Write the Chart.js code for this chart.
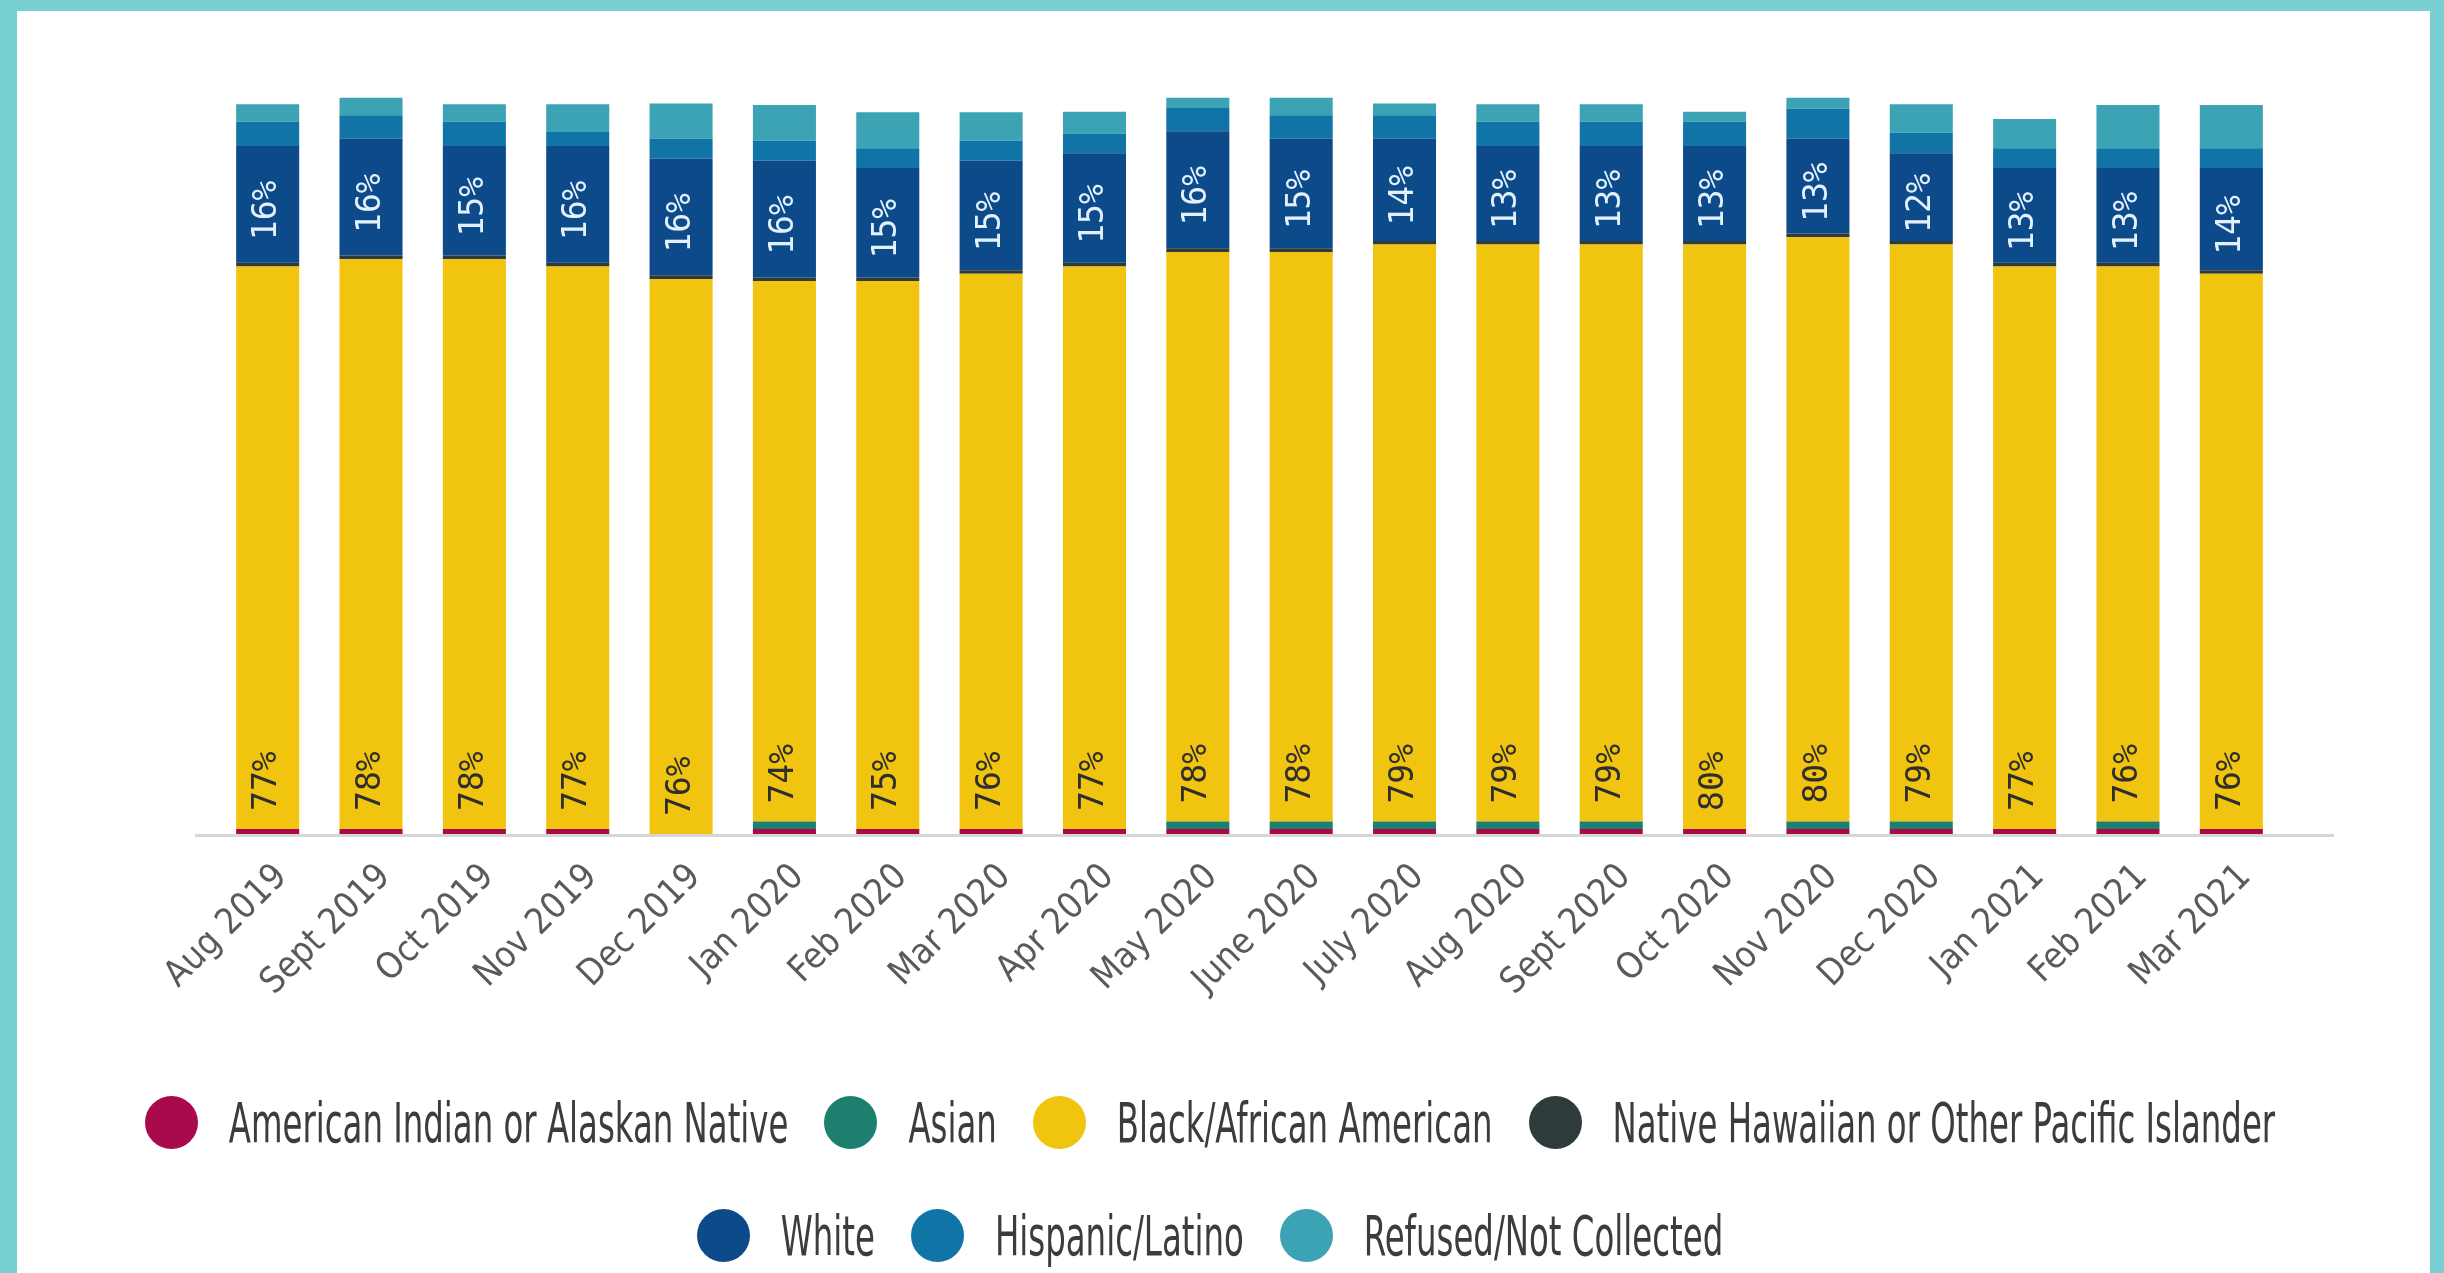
<!DOCTYPE html>
<html>
<head>
<meta charset="utf-8">
<title>Race/ethnicity by month</title>
<script src="https://cdn.jsdelivr.net/npm/chart.js@4/dist/chart.umd.min.js"></script>
<style>
  html, body { margin: 0; padding: 0; }
  body { width: 2444px; height: 1273px; background: #78d0d3; position: relative; overflow: hidden; }
  #panel { position: absolute; left: 17px; top: 11px; right: 14px; bottom: 0; background: #fff; }
  #legend {
    position: absolute; left: 100px; top: 1090px; width: 2220px;
    margin: 0; padding: 0; list-style: none;
    display: flex; flex-wrap: wrap; justify-content: center; row-gap: 49px;
  }
  #legend li { display: flex; align-items: center; height: 64px; margin: 0 18px; }
  #legend .dot { width: 53px; height: 53px; border-radius: 50%; margin-right: 31px; }
  #legend .txt {
    font: 36px 'DejaVu Sans Condensed', 'Liberation Sans Narrow', 'Open Sans', sans-serif;
    color: #3c3c3c; display: inline-block; transform: scaleY(1.55);
  }
</style>
</head>
<body>
<div id="panel"><canvas id="race-chart"></canvas></div>
<ul id="legend"></ul>
<script>
const months = ['Aug 2019', 'Sept 2019', 'Oct 2019', 'Nov 2019', 'Dec 2019', 'Jan 2020',
    'Feb 2020', 'Mar 2020', 'Apr 2020', 'May 2020', 'June 2020', 'July 2020', 'Aug 2020',
    'Sept 2020', 'Oct 2020', 'Nov 2020', 'Dec 2020', 'Jan 2021', 'Feb 2021', 'Mar 2021'];

const americanIndian = [0.7, 0.7, 0.7, 0.7, 0, 0.7, 0.7, 0.7, 0.7, 0.7, 0.7, 0.7, 0.7, 0.7, 0.7, 0.7, 0.7, 0.7, 0.7, 0.7];
const asian = [0, 0, 0, 0, 0, 1, 0, 0, 0, 1, 1, 1, 1, 1, 0, 1, 1, 0, 1, 0];
const black = [77, 78, 78, 77, 76, 74, 75, 76, 77, 78, 78, 79, 79, 79, 80, 80, 79, 77, 76, 76];
const nativeHawaiian = [0.5, 0.5, 0.5, 0.5, 0.5, 0.5, 0.5, 0.5, 0.5, 0.5, 0.5, 0.5, 0.5, 0.5, 0.5, 0.5, 0.5, 0.5, 0.5, 0.5];
const white = [16, 16, 15, 16, 16, 16, 15, 15, 15, 16, 15, 14, 13, 13, 13, 13, 12, 13, 13, 14];
const hispanic = [3.3, 3.2, 3.3, 1.9, 2.7, 2.7, 2.7, 2.7, 2.7, 3.2, 3.2, 3.2, 3.3, 3.3, 3.3, 4.1, 2.8, 2.7, 2.7, 2.7];
const refused = [2.4, 2.4, 2.4, 3.8, 4.8, 4.9, 4.9, 3.9, 3.0, 1.4, 2.4, 1.6, 2.4, 2.4, 1.4, 1.5, 3.9, 4.0, 5.9, 5.9];

const labelFont = "'DejaVu Sans Condensed', 'Liberation Sans Narrow', 'Open Sans', sans-serif";

// percentages written sideways inside the Black and White segments
const valueLabels = {
    id: 'valueLabels',
    afterDatasetsDraw(chart) {
        const ctx = chart.ctx;
        ctx.save();
        ctx.font = "33px 'DejaVu Sans Mono', monospace";
        ctx.textBaseline = 'middle';
        [[2, '#2e2e2e', false], [4, '#e3f1ff', true]].forEach(([di, color, centered]) => {
            chart.getDatasetMeta(di).data.forEach((bar, i) => {
                ctx.save();
                ctx.translate(bar.x, centered ? (bar.y + bar.base) / 2 + 6 : bar.base - 18);
                ctx.rotate(-Math.PI / 2);
                ctx.textAlign = centered ? 'center' : 'left';
                ctx.fillStyle = color;
                ctx.fillText(chart.data.datasets[di].data[i] + '%', 0, 0);
                ctx.restore();
            });
        });
        ctx.restore();
    }
};

// grey baseline, a little wider than the plot area
const baseline = {
    id: 'baseline',
    beforeDatasetsDraw(chart) {
        const {ctx, chartArea} = chart;
        ctx.save();
        ctx.strokeStyle = '#d6d6d6';
        ctx.lineWidth = 3;
        ctx.beginPath();
        ctx.moveTo(chartArea.left - 21, chartArea.bottom + 1.5);
        ctx.lineTo(chartArea.right + 51, chartArea.bottom + 1.5);
        ctx.stroke();
        ctx.restore();
    }
};

// legend as html list under the canvas
const htmlLegend = {
    id: 'htmlLegend',
    afterUpdate(chart) {
        const list = document.getElementById('legend');
        list.innerHTML = '';
        chart.options.plugins.legend.labels.generateLabels(chart).forEach(item => {
            const li = document.createElement('li');
            const dot = document.createElement('span');
            dot.className = 'dot';
            dot.style.background = item.fillStyle;
            const txt = document.createElement('span');
            txt.className = 'txt';
            txt.textContent = item.text;
            li.append(dot, txt);
            list.append(li);
        });
    }
};

new Chart(document.getElementById('race-chart'), {
    type: 'bar',
    data: {
        labels: months,
        datasets: [
            {label: 'American Indian or Alaskan Native', data: americanIndian, backgroundColor: '#a80a4c'},
            {label: 'Asian', data: asian, backgroundColor: '#1d7f6e'},
            {label: 'Black/African American', data: black, backgroundColor: '#f1c40f'},
            {label: 'Native Hawaiian or Other Pacific Islander', data: nativeHawaiian, backgroundColor: '#2f3b3a'},
            {label: 'White', data: white, backgroundColor: '#0c4a89'},
            {label: 'Hispanic/Latino', data: hispanic, backgroundColor: '#1174a6'},
            {label: 'Refused/Not Collected', data: refused, backgroundColor: '#3ca3b4'},
        ],
    },
    options: {
        responsive: true,
        maintainAspectRatio: false,
        animation: false,
        layout: {padding: {left: 199, right: 147, top: 78, bottom: 0}},
        datasets: {bar: {categoryPercentage: 1, barPercentage: 0.61, borderWidth: 0}},
        scales: {
            x: {
                stacked: true,
                grid: {display: false, drawTicks: false},
                border: {display: false},
                ticks: {
                    autoSkip: false,
                    minRotation: 45,
                    maxRotation: 45,
                    padding: 22,
                    labelOffset: 14,
                    color: '#5a5a5a',
                    font: {family: labelFont, size: 36},
                },
                afterFit(scale) { scale.height = 439; },
            },
            y: {
                stacked: true,
                display: false,
                min: 0,
                max: 102,
            },
        },
        plugins: {
            legend: {display: false},
            tooltip: {enabled: false},
        },
    },
    plugins: [valueLabels, baseline, htmlLegend],
});
</script>
</body>
</html>
